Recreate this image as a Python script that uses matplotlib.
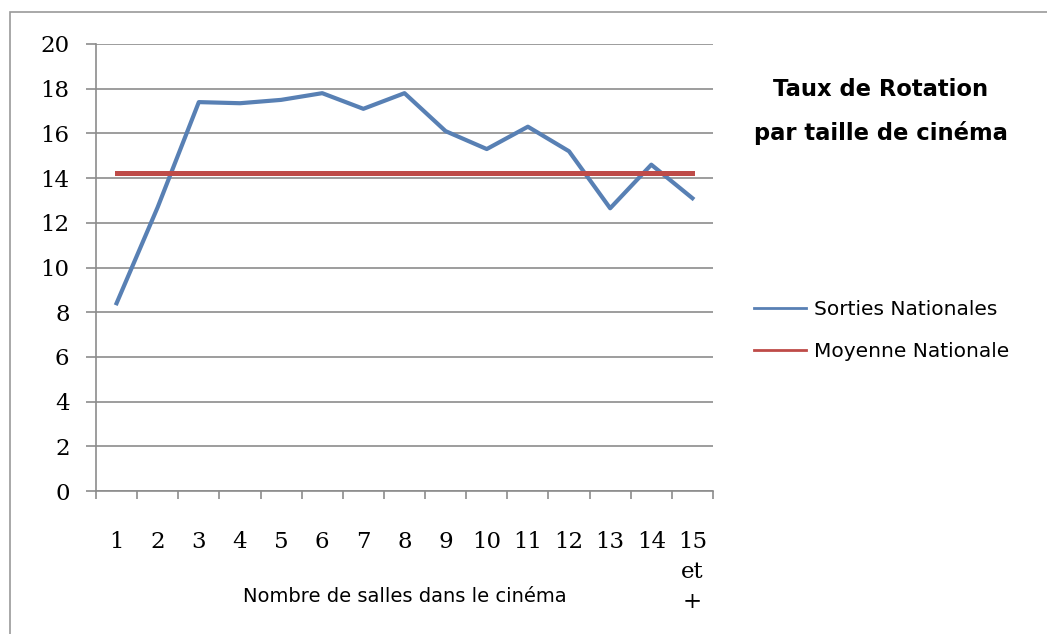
import matplotlib
matplotlib.use("Agg")
import matplotlib.pyplot as plt
from matplotlib.patches import Rectangle
import numpy as np

categories = ["1", "2", "3", "4", "5", "6", "7", "8", "9", "10", "11", "12", "13", "14", "15\net\n+"]
sorties_nationales = [8.4, 12.7, 17.4, 17.35, 17.5, 17.8, 17.1, 17.8, 16.1, 15.3, 16.3, 15.2, 12.65, 14.6, 13.1]
moyenne_nationale = [14.25] * 15
yticks = list(range(0, 21, 2))

W, H = 1047, 634
fig = plt.figure(figsize=(W / 100, H / 100), dpi=100)
fig.patch.set_facecolor("white")

# outer chart border
fig.patches.append(Rectangle((10 / W, -0.1), 1.2, (H - 12) / H + 0.1, transform=fig.transFigure,
                             fill=False, edgecolor="#9a9a9a", lw=1.2))

ax = fig.add_axes([96 / W, (H - 491) / H, (713 - 96) / W, (491 - 44) / H])
x = np.arange(1, len(categories) + 1)

ax.plot(x, sorties_nationales, color="#5880b4", lw=3.0, solid_joinstyle="round",
        label="Sorties Nationales", zorder=3)
ax.plot(x, moyenne_nationale, color="#be4b48", lw=3.6, label="Moyenne Nationale", zorder=3)

ax.set_xlim(0.5, len(categories) + 0.5)
ax.set_ylim(0, 20)
ax.set_yticks(yticks)
ax.set_yticklabels([str(v) for v in yticks], family="DejaVu Serif", fontsize=16.5)
ax.yaxis.grid(True, color="#8c8c8c", lw=1.2)
ax.set_axisbelow(True)

# boundary ticks (major) and centred labels (minor)
ax.set_xticks(np.arange(0.5, len(categories) + 1, 1.0))
ax.set_xticklabels([])
ax.set_xticks(x, minor=True)
ax.set_xticklabels(categories, minor=True, family="DejaVu Serif", fontsize=16.5,
                   va="top", linespacing=1.45)
ax.tick_params(axis="x", which="major", length=6, color="#8c8c8c", width=1.2, direction="out")
ax.tick_params(axis="x", which="minor", length=0, pad=29)
ax.tick_params(axis="y", length=7, color="#8c8c8c", width=1.2, pad=12)

for s in ["top", "right"]:
    ax.spines[s].set_visible(False)
for s in ["left", "bottom"]:
    ax.spines[s].set_color("#8c8c8c")
    ax.spines[s].set_linewidth(1.2)

fig.text(405 / W, 1 - 597 / H, "Nombre de salles dans le cinéma", ha="center", va="center",
         family="DejaVu Sans", fontsize=14)

fig.text(881 / W, 1 - 89 / H, "Taux de Rotation", ha="center", va="center",
         family="DejaVu Sans", fontweight="bold", fontsize=16.3)
fig.text(881 / W, 1 - 133 / H, "par taille de cinéma", ha="center", va="center",
         family="DejaVu Sans", fontweight="bold", fontsize=16.3)

leg = fig.legend(loc="upper left", bbox_to_anchor=(736 / W, 1 - 282 / H), frameon=False,
                 prop={"family": "DejaVu Sans", "size": 14.5}, handlelength=2.6,
                 handletextpad=0.35, labelspacing=1.15)
for h in leg.get_lines():
    h.set_linewidth(2.0)

fig.savefig("out.png", dpi=100, facecolor="white")
